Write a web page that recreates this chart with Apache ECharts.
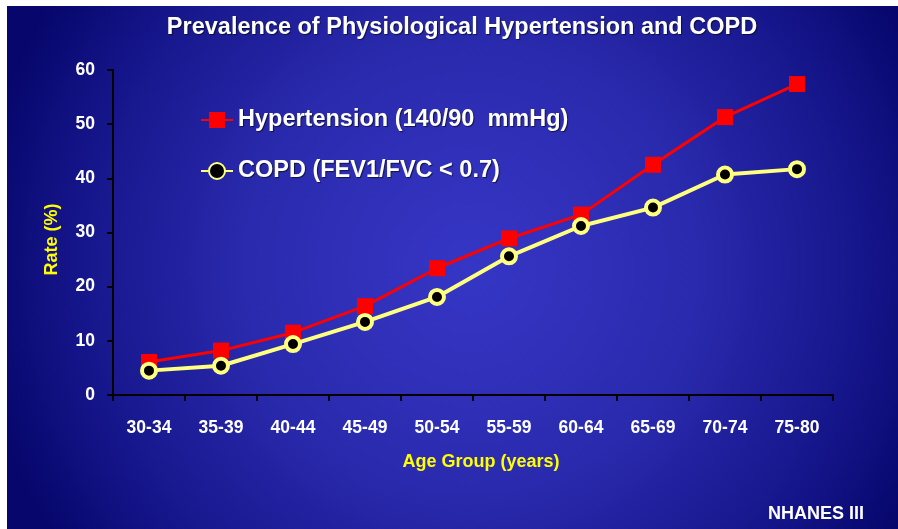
<!DOCTYPE html>
<html>
<head>
<meta charset="utf-8">
<script src="https://cdn.jsdelivr.net/npm/echarts@6/dist/echarts.min.js"></script>
<style>
html,body{margin:0;padding:0;background:#fff;}
#chart{width:898px;height:529px;}
</style>
</head>
<body>
<div id="chart"></div>
<script>
var categories = ['30-34','35-39','40-44','45-49','50-54','55-59','60-64','65-69','70-74','75-80'];
var hypertension = [6.1, 8.2, 11.5, 16.4, 23.4, 28.9, 33.3, 42.5, 51.3, 57.4];
var copd = [4.5, 5.4, 9.4, 13.5, 18.1, 25.6, 31.2, 34.6, 40.7, 41.7];
var yTicks = [0, 10, 20, 30, 40, 50, 60];

var FONT = '"Liberation Sans", Arial, sans-serif';
var SHADOW = {textShadowColor: 'rgba(0,0,0,0.6)', textShadowOffsetX: 1, textShadowOffsetY: 1, textShadowBlur: 1};
function ts(color, size, extra) {
  var o = {color: color, fontFamily: FONT, fontWeight: 'bold', fontSize: size};
  if (extra) for (var k in extra) o[k] = extra[k];
  return o;
}
var chart = echarts.init(document.getElementById('chart'), null, {renderer: 'canvas'});
chart.setOption({
  backgroundColor: '#ffffff',
  animation: false,
  graphic: [{
    type: 'rect', z: -100, silent: true,
    shape: {x: 7, y: 6, width: 891, height: 523},
    style: {
      fill: {
        type: 'radial', x: 0.52, y: 0.5, r: 0.95,
        colorStops: [
          {offset: 0, color: '#3636c6'},
          {offset: 0.45, color: '#2a2aae'},
          {offset: 0.8, color: '#15158a'},
          {offset: 1, color: '#06066c'}
        ]
      }
    }
  }],
  title: [{
    text: 'Prevalence of Physiological Hypertension and COPD',
    left: 462, top: 16, textAlign: 'center', padding: 0,
    textStyle: ts('#ffffff', 23.5, SHADOW)
  }, {
    text: 'NHANES III',
    left: 768, top: 505, padding: 0,
    textStyle: ts('#ffffff', 18)
  }],
  legend: {
    orient: 'vertical', left: 200, top: 108, padding: 0,
    itemWidth: 32, itemHeight: 20, itemGap: 27,
    textStyle: ts('#ffffff', 23.5, SHADOW),
    data: ['Hypertension (140/90  mmHg)', 'COPD (FEV1/FVC < 0.7)']
  },
  grid: {left: 113, right: 65, top: 70, bottom: 134},
  xAxis: {
    type: 'category', data: categories, boundaryGap: true,
    name: 'Age Group (years)', nameLocation: 'middle', nameGap: 58,
    nameTextStyle: ts('#ffff00', 18, {padding: [0, 0, 0, 16]}),
    axisLine: {lineStyle: {color: '#000000', width: 2}},
    axisTick: {show: true, length: 6, lineStyle: {color: '#000000', width: 2}},
    axisLabel: ts('#ffffff', 17.5, {margin: 24})
  },
  yAxis: {
    type: 'value', min: yTicks[0], max: yTicks[yTicks.length - 1], interval: 10,
    name: 'Rate (%)', nameLocation: 'middle', nameGap: 52, nameRotate: 90,
    nameTextStyle: ts('#ffff00', 18, {padding: [0, 14, 0, 0]}),
    axisLine: {show: true, lineStyle: {color: '#000000', width: 2}},
    axisTick: {show: true, length: 6, lineStyle: {color: '#000000', width: 2}},
    splitLine: {show: false},
    axisLabel: ts('#ffffff', 17.5, {margin: 18})
  },
  series: [{
    name: 'Hypertension (140/90  mmHg)', type: 'line', data: hypertension,
    symbol: 'rect', symbolSize: 16,
    lineStyle: {color: '#ff0000', width: 3},
    itemStyle: {color: '#ff0000'}
  }, {
    name: 'COPD (FEV1/FVC < 0.7)', type: 'line', data: copd,
    symbol: 'circle', symbolSize: 14,
    lineStyle: {color: '#ffff80', width: 4},
    itemStyle: {color: '#000000', borderColor: '#ffff80', borderWidth: 4}
  }]
});
</script>
</body>
</html>
